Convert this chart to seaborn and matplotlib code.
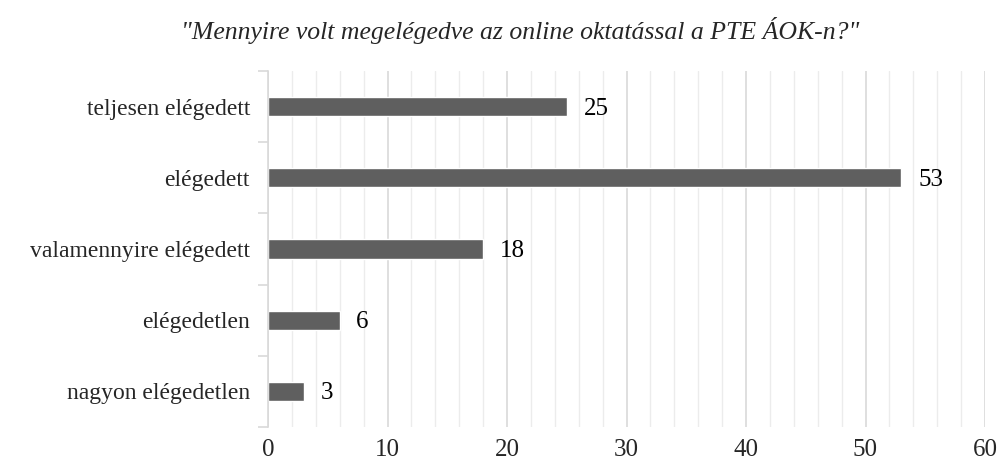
import pandas as pd
import seaborn as sns
import matplotlib.pyplot as plt
import numpy as np
from matplotlib.ticker import MultipleLocator, FixedLocator

# Data
categories = ['teljesen elégedett', 'elégedett', 'valamennyire elégedett',
              'elégedetlen', 'nagyon elégedetlen']
counts = [25, 53, 18, 6, 3]
title = '"Mennyire volt megelégedve az online oktatással a PTE ÁOK-n?"'

df = pd.DataFrame({'category': categories, 'count': counts})

sns.set_theme(style='white')
plt.rcParams['font.family'] = ['Liberation Serif', 'DejaVu Serif']

fig = plt.figure(figsize=(10, 4.68), dpi=100)
ax = fig.add_axes([0.268, 0.088, 0.717, 0.76])

sns.barplot(data=df, x='count', y='category', orient='h', color='#5f5f5f',
            saturation=1, width=0.27, ax=ax)

# Value labels
for i, v in enumerate(counts):
    ax.annotate(str(v), (v, i), xytext=(12, -1.5), textcoords='offset points',
                va='center', ha='left', fontsize=18, color='black')

ax.set_xlim(0, 60)
ax.set_ylim(4.5, -0.5)
ax.xaxis.set_major_locator(MultipleLocator(10))
ax.xaxis.set_minor_locator(MultipleLocator(2))
ax.grid(axis='x', which='major', color='#d9d9d9', linewidth=1.2)
ax.grid(axis='x', which='minor', color='#ececec', linewidth=1.0)
ax.set_axisbelow(True)

for s in ['top', 'right', 'bottom']:
    ax.spines[s].set_visible(False)
ax.spines['left'].set_color('#d9d9d9')
ax.spines['left'].set_linewidth(1.2)

# category boundary ticks on y axis
ax.yaxis.set_minor_locator(FixedLocator(np.arange(-0.5, 5, 1)))
ax.tick_params(axis='y', which='minor', left=True, length=7, color='#d9d9d9', width=1.2)
ax.tick_params(axis='y', which='major', left=False, labelsize=17, pad=7)
ax.tick_params(axis='x', which='both', bottom=False, labelsize=18, pad=3)

ax.set_xlabel('')
ax.set_ylabel('')

fig.text(0.52, 0.935, title, ha='center', va='center', fontsize=18.5, style='italic')

fig.savefig('out.png', dpi=100)
